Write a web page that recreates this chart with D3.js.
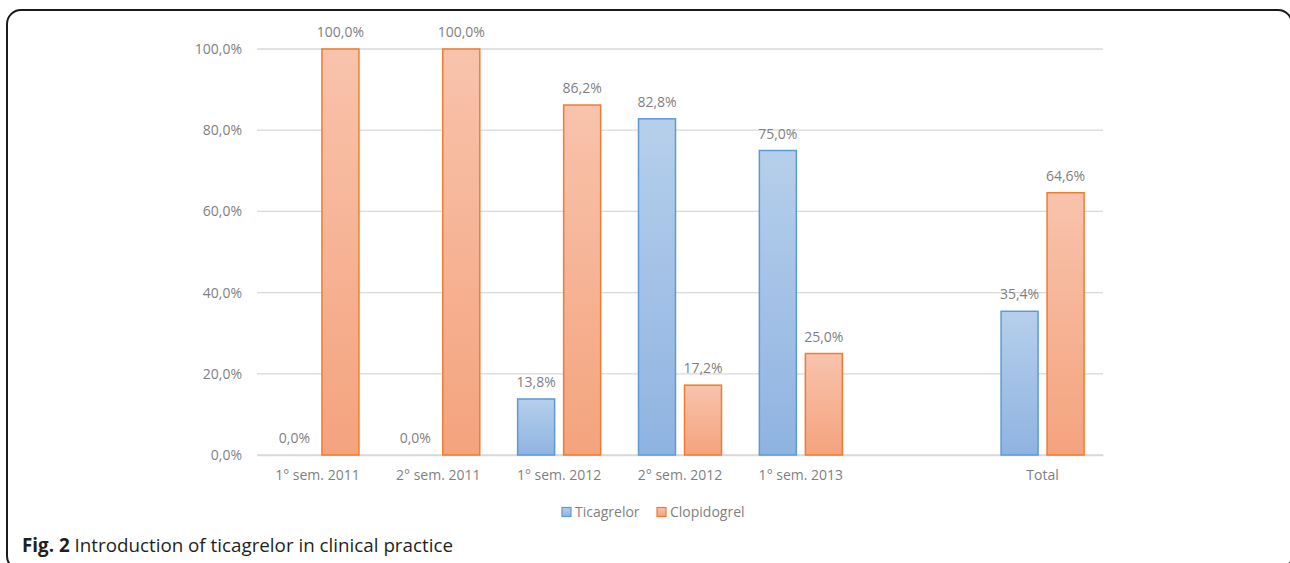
<!DOCTYPE html>
<html>
<head>
<meta charset="utf-8">
<script src="https://cdn.jsdelivr.net/npm/d3@7"></script>
<style>
  html, body { margin: 0; padding: 0; background: #fff; }
  svg { display: block; }
</style>
</head>
<body>
<svg id="chart" width="1290" height="563"></svg>
<script>
// Semesters (the blank slot separates the period series from the overall total)
const categories = ["1° sem. 2011", "2° sem. 2011", "1° sem. 2012", "2° sem. 2012", "1° sem. 2013", "", "Total"];
const ticagrelor  = [0.0, 0.0, 13.8, 82.8, 75.0, null, 35.4];
const clopidogrel = [100.0, 100.0, 86.2, 17.2, 25.0, null, 64.6];
const seriesNames = ["Ticagrelor", "Clopidogrel"];
const yTicks = [0, 20, 40, 60, 80, 100];

const fmt = v => v.toFixed(1).replace(".", ",") + "%";

const svg = d3.select("#chart");
const font = "'Open Sans', 'Noto Sans', sans-serif";
const fs = 14;

// Gradient fills for the two series
const defs = svg.append("defs");
const grads = [
  { id: "gTica", top: "#b6cfeb", bottom: "#8fb3e1" },
  { id: "gClop", top: "#f8c3ac", bottom: "#f4a37d" }
];
grads.forEach(g => {
  const lg = defs.append("linearGradient").attr("id", g.id)
    .attr("x1", 0).attr("y1", 0).attr("x2", 0).attr("y2", 1);
  lg.append("stop").attr("offset", "0%").attr("stop-color", g.top);
  lg.append("stop").attr("offset", "100%").attr("stop-color", g.bottom);
});
const fills = ["url(#gTica)", "url(#gClop)"];
const strokes = ["#5b9bd5", "#ed7d31"];

// Outer frame
svg.append("rect")
  .attr("x", 7).attr("y", 10).attr("width", 1285).attr("height", 560)
  .attr("rx", 14).attr("ry", 14)
  .attr("fill", "none").attr("stroke", "#1a1a1a").attr("stroke-width", 2);

const plot = { left: 257, right: 1103, top: 49, bottom: 455 };

const x = d3.scaleBand().domain(d3.range(categories.length))
  .range([plot.left, plot.right]).paddingInner(0).paddingOuter(0);
const y = d3.scaleLinear().domain([0, 100]).range([plot.bottom, plot.top]);

// Gridlines
svg.append("g").selectAll("line").data(yTicks).join("line")
  .attr("x1", plot.left).attr("x2", plot.right)
  .attr("y1", d => y(d)).attr("y2", d => y(d))
  .attr("stroke", "#d9d9d9").attr("stroke-width", 1.3);

// Y axis labels
const yAxis = d3.axisLeft(y).tickValues(yTicks).tickFormat(fmt).tickSize(0).tickPadding(15);
const yg = svg.append("g").attr("transform", `translate(${plot.left},0)`).call(yAxis);
yg.select(".domain").remove();
yg.selectAll("text").attr("font-family", font).attr("font-size", fs).attr("fill", "#7f7f7f");

// X axis labels
const xAxis = d3.axisBottom(x).tickFormat(i => categories[i]).tickSize(0).tickPadding(15);
const xg = svg.append("g").attr("transform", `translate(0,${plot.bottom})`).call(xAxis);
xg.select(".domain").attr("stroke", "#d9d9d9").attr("stroke-width", 1.3);
xg.selectAll("text").attr("font-family", font).attr("font-size", fs).attr("fill", "#7f7f7f");

// Bars
const barW = 38, offset = 23;
const series = [ticagrelor, clopidogrel];
series.forEach((vals, s) => {
  const data = vals.map((v, i) => ({ v, i })).filter(d => d.v !== null);
  const cx = d => x(d.i) + x.bandwidth() / 2 + (s === 0 ? -offset : offset);
  const g = svg.append("g");
  g.selectAll("rect").data(data.filter(d => d.v > 0)).join("rect")
    .attr("x", d => cx(d) - barW / 2 + 0.5)
    .attr("y", d => y(d.v))
    .attr("width", barW - 1)
    .attr("height", d => y(0) - y(d.v))
    .attr("fill", fills[s]).attr("stroke", strokes[s]).attr("stroke-width", 1.5);
  g.selectAll("text").data(data).join("text")
    .attr("x", cx).attr("y", d => y(d.v) - 12)
    .attr("text-anchor", "middle")
    .attr("font-family", font).attr("font-size", fs).attr("fill", "#7f7f7f")
    .text(d => fmt(d.v));
});

// Legend
const legend = svg.append("g");
const legendItems = [
  { name: seriesNames[0], x: 562 },
  { name: seriesNames[1], x: 657 }
];
legendItems.forEach((it, s) => {
  legend.append("rect").attr("x", it.x).attr("y", 507.5).attr("width", 9).attr("height", 9)
    .attr("fill", fills[s]).attr("stroke", strokes[s]).attr("stroke-width", 1.2);
  legend.append("text").attr("x", it.x + 13).attr("y", 517)
    .attr("font-family", font).attr("font-size", fs).attr("fill", "#7f7f7f")
    .text(it.name);
});

// Caption
const cap = svg.append("text").attr("x", 22).attr("y", 552)
  .attr("font-family", font).attr("font-size", 18.8).attr("fill", "#231f20");
cap.append("tspan").attr("font-weight", "bold").text("Fig. 2");
cap.append("tspan").text(" Introduction of ticagrelor in clinical practice");
</script>
</body>
</html>
